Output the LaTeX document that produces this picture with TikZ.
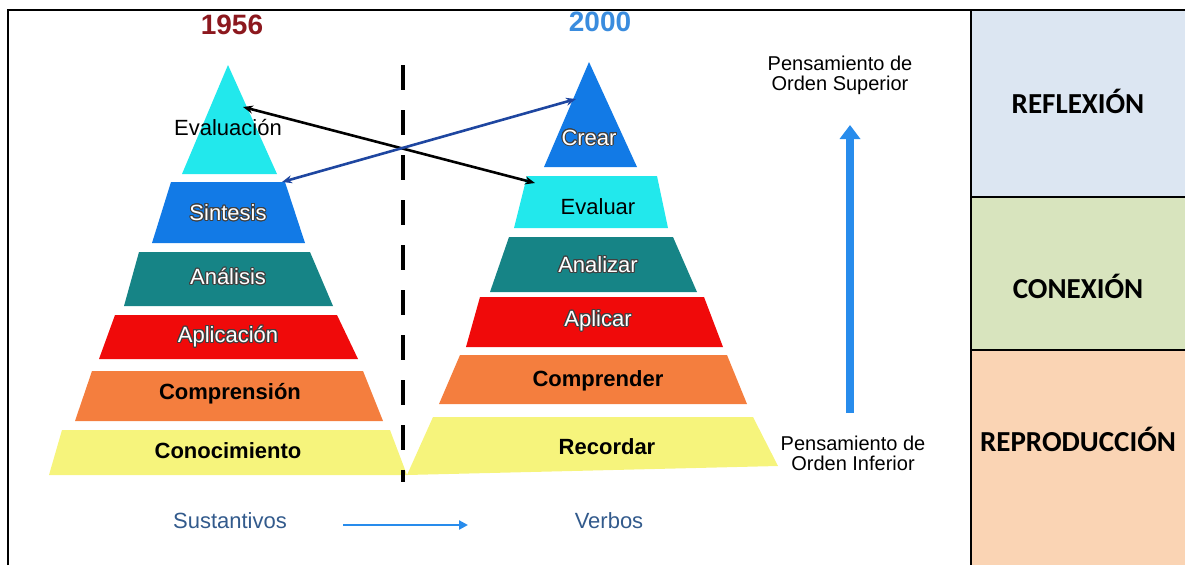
\documentclass[tikz,border=0pt]{standalone}
\usepackage{fontspec}
\setmainfont{Liberation Sans}
\newfontfamily\calibri{Carlito}
\usepackage[copies]{contour}
\contourlength{1pt}
\usetikzlibrary{arrows.meta}

\definecolor{cyanlvl}{RGB}{34,232,236}
\definecolor{bluelvl}{RGB}{18,122,230}
\definecolor{teallvl}{RGB}{22,132,134}
\definecolor{redlvl}{RGB}{240,10,10}
\definecolor{orangelvl}{RGB}{244,126,62}
\definecolor{yellowlvl}{RGB}{246,244,124}
\definecolor{yearred}{RGB}{140,24,30}
\definecolor{yearblue}{RGB}{58,140,222}
\definecolor{arrowblue}{RGB}{40,140,236}
\definecolor{darkarrow}{RGB}{30,70,160}
\definecolor{wordblue}{RGB}{50,90,140}
\definecolor{cellblue}{RGB}{220,230,242}
\definecolor{cellgreen}{RGB}{216,228,190}
\definecolor{cellpeach}{RGB}{250,212,180}

\newcommand{\outl}[1]{\textcolor{white}{\contour{black!75}{#1}}}

\begin{document}
\begin{tikzpicture}[x=1pt,y=-1pt,
    lbl/.style={font=\fontsize{22}{26}\selectfont},
    lblb/.style={font=\fontsize{22}{26}\selectfont\bfseries},
    year/.style={font=\fontsize{28}{32}\selectfont\bfseries},
    cell/.style={font=\calibri\fontsize{29}{33}\selectfont\bfseries},
    side/.style={font=\fontsize{20}{23}\selectfont, align=center},
    link/.style={line width=2.6pt, {Stealth[length=10pt,width=8pt]}-{Stealth[length=10pt,width=8pt]}}]
\useasboundingbox (0,0) rectangle (1185,565);

% table on the right
\fill[cellblue] (971,10) rectangle (1185,197);
\fill[cellgreen] (971,197) rectangle (1185,350);
\fill[cellpeach] (971,350) rectangle (1185,565);
\draw[line width=1.5pt] (8,565) -- (8,10) -- (1185,10);
\draw[line width=1.5pt] (971,10) -- (971,565);
\draw[line width=1.5pt] (971,197) -- (1185,197);
\draw[line width=1.5pt] (971,350) -- (1185,350);
\node[cell] (refl) at (1078,101) {REFLEXIÓN};
\node[cell] (conx) at (1078,286) {CONEXIÓN};
\node[cell] (repr) at (1078,439) {REPRODUCCIÓN};

% pyramid 1956
\fill[cyanlvl] (228,65) -- (277,174) -- (182,174) -- cycle;
\fill[bluelvl] (171,182) -- (285,182) -- (305,243) -- (152,243) -- cycle;
\fill[teallvl] (139,252) -- (310,252) -- (333,306) -- (124,306) -- cycle;
\fill[redlvl] (115,315) -- (337,315) -- (358,359) -- (99,359) -- cycle;
\fill[orangelvl] (92,371) -- (363,371) -- (383,421) -- (75,421) -- cycle;
\fill[yellowlvl] (62,430) -- (390,430) -- (407,475) -- (49,475) -- cycle;

% pyramid 2000
\fill[bluelvl] (589,62) -- (637,167) -- (544,167) -- cycle;
\fill[cyanlvl] (527,176) -- (657,176) -- (668,228) -- (514,228) -- cycle;
\fill[teallvl] (509,237) -- (673,237) -- (697,292) -- (490,292) -- cycle;
\fill[redlvl] (480,297) -- (704,297) -- (723,347) -- (466,347) -- cycle;
\fill[orangelvl] (460,355) -- (727,355) -- (747,404) -- (439,404) -- cycle;
\fill[yellowlvl] (433,417) -- (753,417) -- (778,466) -- (407,475) -- cycle;

\node[year, text=yearred] (y56) at (232,25) {1956};
\node[year, text=yearblue] (y00) at (600,22) {2000};

\node[lbl] (eval) at (228,128) {Evaluación};
\node[lbl] (sint) at (228,213) {\outl{Sintesis}};
\node[lbl] (anal) at (228,277) {\outl{Análisis}};
\node[lbl] (apli) at (228,337) {\outl{Aplicación}};
\node[lblb] (comp) at (230,394) {Comprensión};
\node[lblb] (cono) at (228,451) {Conocimiento};

\node[lbl] (crea) at (589,138) {\outl{Crear}};
\node[lbl] (evar) at (598,207) {Evaluar};
\node[lbl] (anar) at (598,265) {\outl{Analizar}};
\node[lbl] (apar) at (598,321) {\outl{Aplicar}};
\node[lblb] (comr) at (598,381) {Comprender};
\node[lblb] (reco) at (607,447) {Recordar};

% divider
\draw[line width=4pt, dash pattern=on 25pt off 20pt] (403,65) -- (403,482);

% cross links
\coordinate (e1) at (243,107);
\coordinate (e2) at (535,183);
\coordinate (c1) at (576,99);
\coordinate (c2) at (282,182);
\draw[link, black] (e1) -- (e2);
\draw[link, darkarrow] (c1) -- (c2);

% order of thinking
\node[side] (sup) at (840,75) {Pensamiento de\\[-3pt]Orden Superior};
\node[side] (inf) at (853,453) {Pensamiento de\\[-3pt]Orden Inferior};
\draw[arrowblue, line width=8pt, -{Triangle[length=14pt,width=20pt]}] (850,413) -- (850,125);

% bottom
\node[lbl, text=wordblue] (sust) at (230,521) {Sustantivos};
\node[lbl, text=wordblue] (verb) at (609,521) {Verbos};
\draw[arrowblue, line width=2.5pt, -{Triangle[length=9pt,width=9pt]}] (343,525) -- (468,525);
\end{tikzpicture}
\end{document}
